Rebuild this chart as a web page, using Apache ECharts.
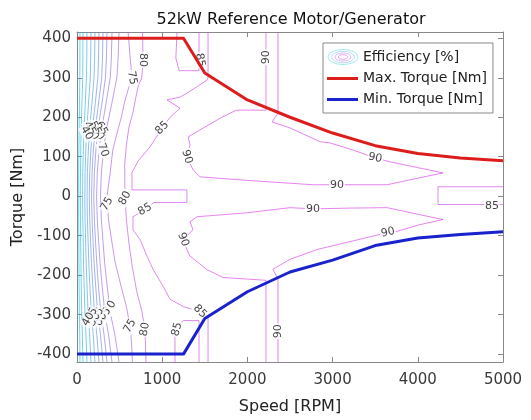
<!DOCTYPE html>
<html><head><meta charset="utf-8">
<script src="https://cdn.jsdelivr.net/npm/echarts@6/dist/echarts.min.js"></script>
<style>html,body{margin:0;padding:0;background:#fff}#c{width:531px;height:420px}</style>
</head><body><div id="c"></div>
<script>
// ---------- data ----------
const speedTicks = [0, 1000, 2000, 3000, 4000, 5000];
const torqueTicks = [-400, -300, -200, -100, 0, 100, 200, 300, 400];

const maxSpeed  = [0, 1250, 1500, 2000, 2500, 3000, 3500, 4000, 4500, 5000];
const maxTorque = [400, 400, 312, 244, 200, 160, 128, 108, 97, 90];
const minSpeed  = [0, 1250, 1500, 2000, 2500, 3000, 3500, 4000, 4500, 5000];
const minTorque = [-400, -400, -310, -242, -192, -162, -125, -106, -97, -90];

// low-speed efficiency contours: speed read at these torques
const lowTorque = [416, 350, 300, 230, 170, 117, 60, 0, -60, -117, -170, -230, -300, -350, -420];
const eff25 = [35, 34, 33, 29, 25, 22, 20, 20, 20, 22, 23, 25, 28, 32, 35];
const eff30 = [70, 69, 67, 57, 49, 44, 41, 39, 41, 43, 46, 50, 56, 63, 70];
const eff35 = [117, 115, 111, 96, 82, 74, 68, 66, 68, 73, 77, 84, 94, 105, 117];
const eff40 = [164, 161, 156, 134, 115, 103, 95, 92, 95, 102, 108, 118, 131, 148, 164];
const eff45 = [211, 207, 200, 173, 148, 133, 122, 118, 122, 131, 139, 152, 169, 190, 211];
const eff50 = [258, 253, 245, 212, 181, 163, 150, 144, 150, 160, 170, 186, 206, 232, 258];
const eff55 = [305, 299, 290, 250, 214, 192, 177, 171, 177, 189, 201, 220, 244, 275, 305];
const eff60 = [352, 345, 334, 289, 246, 222, 204, 197, 204, 218, 232, 253, 282, 317, 352];
const eff65 = [411, 403, 390, 337, 288, 259, 238, 230, 238, 255, 271, 296, 329, 370, 411];
const eff70 = [493, 483, 468, 404, 345, 311, 286, 276, 286, 306, 325, 355, 395, 444, 493];

// wiggly contours as [speed, torque]
const eff75 = [[600,416],[620,360],[645,302],[600,270],[560,240],[520,200],[470,160],[420,117],[390,60],[352,0],[370,-60],[410,-117],[450,-170],[520,-230],[580,-280],[622,-329],[640,-370],[650,-420]];
const eff80 = [[770,416],[775,340],[760,300],[720,280],[690,250],[660,215],[610,175],[580,130],[560,80],[563,0],[580,-60],[610,-120],[650,-180],[700,-240],[760,-290],[798,-337],[810,-420]];
const eff85main = [[1538,416],[1538,300],[1526,294],[1290,261],[1210,251],[1056,244],[1210,223],[1092,200],[1000,173],[857,125],[720,90],[645,60],[645,16],[1290,16],[1290,-16],[900,-16],[798,-34],[657,-52],[657,-85],[740,-110],[822,-152],[892,-185],[1010,-228],[1092,-261],[1250,-280],[1444,-292],[1538,-307],[1538,-420]];
const eff85top = [[1174,416],[1160,350],[1200,318],[1432,318],[1432,416]];
const eff85bottom = [[1150,-420],[1150,-335],[1250,-315],[1432,-315],[1432,-420]];
const eff85right = [[5000,24],[4237,24],[4237,-21],[5000,-21]];
const eff90upper = [[2218,416],[2218,218],[1870,218],[1700,200],[1444,168],[1303,150],[1327,130],[1290,100],[1362,67],[1444,49],[2000,40],[2770,29],[3052,29],[3640,29],[4027,47],[4296,59],[3675,87],[3500,97],[3240,117],[2970,135],[2853,138],[2500,173],[2290,188],[2359,211],[2359,416]];
const eff90lower = [[2218,-420],[2218,-213],[1714,-206],[1526,-186],[1327,-152],[1290,-135],[1245,-110],[1362,-85],[1327,-65],[1409,-52],[1996,-42],[2500,-29],[2770,-32],[3240,-30],[3640,-29],[4027,-47],[4296,-59],[4027,-72],[3757,-89],[3650,-92],[3205,-115],[2818,-135],[2500,-160],[2300,-185],[2359,-210],[2359,-420]];

// contour labels
const labelPos = [[775,345],[645,300],[305,117],[1000,173],[1290,100],[1444,345],[2218,352],[3500,97],[3052,29],[2770,-32],[3650,-92],[4870,-24],[1245,-110],[2359,-342],[1444,-292],[1174,-337],[798,-337],[622,-329],[387,-282],[352,-20],[563,-5],[798,-34],
  [288,172],[246,160],[214,172],[181,160],[148,172],[115,160],
  [329,-300],[282,-312],[244,-300],[206,-312],[169,-300],[131,-312]];
const labelText = ['80','75','70','85','90','85','90','90','90','90','90','85','90','90','85','85','80','75','70','75','80','85',
  '65','60','55','50','45','40',
  '65','60','55','50','45','40'];
const labelAngle = [-90,-80,-70,45,-75,-80,90,-12,0,0,12,0,-70,90,-45,75,80,60,60,60,60,30,
  -60,-60,-60,-60,-60,-60,
  60,60,60,60,60,60];

// ---------- build ----------
function levelColor(l){
  const t = Math.max(0, Math.min(1, (l - 20) / 70));
  const r = Math.round(215 * t), g = Math.round(205 - 150 * t), b = Math.round(220 + 10 * t);
  return 'rgba(' + r + ',' + g + ',' + b + ',0.62)';
}
const zipLow = arr => lowTorque.map((tq, i) => [arr[i], tq]);
const contours = [
  [25, zipLow(eff25)], [30, zipLow(eff30)], [35, zipLow(eff35)], [40, zipLow(eff40)],
  [45, zipLow(eff45)], [50, zipLow(eff50)], [55, zipLow(eff55)], [60, zipLow(eff60)],
  [65, zipLow(eff65)], [70, zipLow(eff70)], [75, eff75], [80, eff80],
  [85, eff85main], [85, eff85top], [85, eff85bottom], [85, eff85right],
  [90, eff90upper], [90, eff90lower]
];
const FONT = 'DejaVu Sans';
const series = contours.map(([lvl, pts]) => ({
  name: 'Efficiency [%]', type: 'line', data: pts, showSymbol: false, silent: true,
  lineStyle: { color: levelColor(lvl), width: 1 }, itemStyle: { color: levelColor(lvl) },
  z: 2, animation: false
}));
series.push({
  type: 'scatter', symbolSize: 0, silent: true, z: 3, animation: false,
  data: labelPos.map((p, i) => ({ value: p, label: { show: true, position: 'inside', formatter: labelText[i], rotate: labelAngle[i] } })),
  label: { fontSize: 11, fontFamily: FONT, color: '#111', backgroundColor: '#fff', padding: [0, 1] }
});
series.push({ name: 'Max. Torque [Nm]', type: 'line', data: maxSpeed.map((s, i) => [s, maxTorque[i]]), showSymbol: false, lineStyle: { color: '#dd1c1c', width: 3 }, itemStyle: { color: '#dd1c1c' }, z: 5, animation: false });
series.push({ name: 'Min. Torque [Nm]', type: 'line', data: minSpeed.map((s, i) => [s, minTorque[i]]), showSymbol: false, lineStyle: { color: '#1a22cc', width: 3 }, itemStyle: { color: '#1a22cc' }, z: 5, animation: false });

const axisLineStyle = { show: true, onZero: false, lineStyle: { color: '#888', width: 1 } };
const tickStyle = { inside: true, length: 5, lineStyle: { color: '#888' } };
const plain = v => String(v);
const option = {
  animation: false,
  backgroundColor: '#fff',
  title: { text: '52kW Reference Motor/Generator', left: 286, textAlign: 'center', top: 7,
    textStyle: { fontSize: 16, fontWeight: 'normal', color: '#111', fontFamily: FONT } },
  grid: { left: 77, right: 28, top: 32, bottom: 57 },
  xAxis: [
    { type: 'value', min: 0, max: 5000, interval: 1000, position: 'bottom',
      axisLine: axisLineStyle, axisTick: tickStyle, splitLine: { show: false },
      axisLabel: { fontSize: 15, color: '#3a3a3a', fontFamily: FONT, margin: 11, customValues: speedTicks, formatter: plain },
      name: 'Speed [RPM]', nameLocation: 'middle', nameGap: 37,
      nameTextStyle: { fontSize: 16, color: '#222', fontFamily: FONT } },
    { type: 'value', min: 0, max: 5000, interval: 1000, position: 'top',
      axisLine: axisLineStyle, axisTick: tickStyle, splitLine: { show: false }, axisLabel: { show: false } }
  ],
  yAxis: [
    { type: 'value', min: -420, max: 416, position: 'left',
      axisLine: axisLineStyle, axisTick: Object.assign({ customValues: torqueTicks }, tickStyle), splitLine: { show: false },
      axisLabel: { fontSize: 15, color: '#3a3a3a', fontFamily: FONT, margin: 6, customValues: torqueTicks, formatter: plain },
      name: 'Torque [Nm]', nameLocation: 'middle', nameGap: 43,
      nameTextStyle: { fontSize: 16, color: '#222', fontFamily: FONT } },
    { type: 'value', min: -420, max: 416, position: 'right',
      axisLine: axisLineStyle, axisTick: Object.assign({ customValues: torqueTicks }, tickStyle), splitLine: { show: false }, axisLabel: { show: false } }
  ],
  legend: {
    left: 323, top: 43, orient: 'vertical', padding: [6, 6, 5, 4], itemGap: 4,
    itemWidth: 31, itemHeight: 3, backgroundColor: '#fff', borderColor: '#888', borderWidth: 1,
    selectedMode: false,
    textStyle: { fontSize: 14, fontFamily: FONT, color: '#222', lineHeight: 17 },
    data: [
      { name: 'Efficiency [%]', icon: 'rect', itemStyle: { opacity: 0 } },
      { name: 'Max. Torque [Nm]', icon: 'rect' },
      { name: 'Min. Torque [Nm]', icon: 'rect' }
    ]
  },
  graphic: [
    { type: 'circle', x: 343, y: 57, scaleY: 0.5, shape: { r: 15 }, style: { fill: 'none', stroke: 'rgba(0,200,215,0.5)', lineWidth: 1 }, z: 100 },
    { type: 'circle', x: 343, y: 57, scaleY: 0.5, shape: { r: 11.5 }, style: { fill: 'none', stroke: 'rgba(100,150,218,0.5)', lineWidth: 1 }, z: 100 },
    { type: 'circle', x: 343, y: 57, scaleY: 0.5, shape: { r: 8 }, style: { fill: 'none', stroke: 'rgba(160,100,220,0.55)', lineWidth: 1 }, z: 100 },
    { type: 'circle', x: 343, y: 57, scaleY: 0.5, shape: { r: 4.5 }, style: { fill: 'none', stroke: 'rgba(200,60,220,0.6)', lineWidth: 1 }, z: 100 }
  ],
  series: series
};
const chart = echarts.init(document.getElementById('c'), null, { renderer: 'canvas' });
chart.setOption(option);
</script></body></html>
